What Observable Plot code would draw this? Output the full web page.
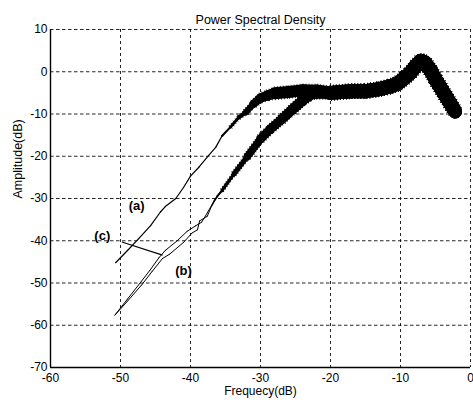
<!DOCTYPE html>
<html>
<head>
<meta charset="utf-8">
<script src="https://cdn.jsdelivr.net/npm/d3@7"></script>
<script src="https://cdn.jsdelivr.net/npm/@observablehq/plot@0.6"></script>
<style>
  html, body { margin: 0; padding: 0; background: #fff; }
</style>
</head>
<body>
<div id="chart"></div>
<script>
// ---- tick labels ----
const xTicks = [-60, -50, -40, -30, -20, -10, 0];
const yTicks = [10, 0, -10, -20, -30, -40, -50, -60, -70];

// ---- curve (a) ----
const aX = [-50.7, -49.0, -47.4, -45.7, -44.3, -43.6, -42.1, -41.0, -40.0, -38.8, -37.4, -36.4, -35.5, -34.3, -33.1, -32.1, -31.0, -30.0, -29.0, -28.0, -26.0, -24.0, -22.0];
const aY = [-45.2, -42.3, -39.5, -36.4, -33.2, -31.9, -30.0, -27.4, -24.7, -22.6, -19.8, -17.9, -15.2, -13.1, -10.8, -9.6, -7.6, -6.2, -5.6, -5.1, -4.8, -4.4, -4.5];

// ---- curve (b) ----
const bX = [-50.8, -49.0, -47.0, -45.5, -44.0, -43.0, -41.0, -39.8, -39.0, -38.7, -37.6, -37.0, -36.2, -35.5, -33.8, -31.9, -30.0, -28.6, -27.0, -25.5, -24.0, -23.0, -22.0];
const bY = [-57.6, -54.3, -50.5, -47.3, -44.2, -43.2, -40.4, -38.2, -37.4, -35.3, -34.2, -31.8, -29.5, -28.2, -24.3, -20.2, -16.0, -13.6, -11.3, -9.0, -6.8, -5.6, -5.0];

// ---- curve (c) ----
const cX = [-50.8, -49.0, -47.2, -45.8, -44.5, -43.6, -41.9, -40.5, -39.3, -38.4, -37.6, -36.6, -35.5, -33.8, -31.9, -30.0, -28.6, -27.0, -25.5, -24.0, -23.0, -22.0];
const cY = [-57.6, -53.8, -50.0, -47.0, -44.0, -42.3, -40.0, -37.8, -36.5, -35.6, -33.4, -30.5, -28.0, -24.1, -20.0, -15.8, -13.6, -11.3, -9.0, -6.8, -5.6, -5.0];

// ---- common high-frequency part (all three curves) ----
const tailX = [-20.0, -17.0, -15.0, -13.0, -11.5, -10.5, -9.5, -8.6, -7.8, -7.1, -6.5, -5.7, -5.0, -4.3, -3.6, -2.9, -2.2];
const tailY = [-5.0, -4.6, -4.6, -4.1, -3.5, -2.9, -1.6, -0.3, 1.4, 2.6, 2.2, 0.3, -1.8, -3.7, -5.6, -7.5, -9.4];

// ---- annotations ----
const labelText = ["(a)", "(b)", "(c)"];
const labelX = [-47.7, -41.0, -52.6];
const labelY = [-31.7, -47.2, -38.8];
const pointerX = [-49.8, -44.0];
const pointerY = [-40.3, -43.4];

// ---- build segment table ----
function lerp(x, x0, x1, w0, w1) {
  const t = Math.max(0, Math.min(1, (x - x0) / (x1 - x0)));
  return w0 + t * (w1 - w0);
}
function widthFor(name, x) {
  if (name === "a") {
    if (x < -36) return 1.2;
    if (x < -33) return lerp(x, -36, -33, 1.2, 3.5);
    if (x < -30) return lerp(x, -33, -30, 3.5, 9);
    if (x < -22) return lerp(x, -30, -27, 9, 12);
    return lerp(x, -22, -19, 12, 14);
  }
  if (x < -37) return 1.0;
  if (x < -34) return lerp(x, -37, -34, 1.0, 3);
  if (x < -30) return lerp(x, -34, -30, 3, 8);
  if (x < -22) return lerp(x, -30, -25, 8, 10);
  return lerp(x, -22, -19, 10, 14);
}
const curves = [
  {name: "a", xs: aX.concat(tailX), ys: aY.concat(tailY)},
  {name: "b", xs: bX.concat(tailX), ys: bY.concat(tailY)},
  {name: "c", xs: cX.concat(tailX), ys: cY.concat(tailY)}
];
const segs = [];
for (const c of curves) {
  for (let i = 0; i < c.xs.length - 1; i++) {
    const w = widthFor(c.name, (c.xs[i] + c.xs[i + 1]) / 2);
    segs.push({x1: c.xs[i], y1: c.ys[i], x2: c.xs[i + 1], y2: c.ys[i + 1], w, wHair: w + 1.8});
  }
}
const thickSegs = segs.filter(s => s.w > 2.5);
const labels = labelText.map((t, i) => ({t, x: labelX[i], y: labelY[i]}));
const pointer = [{x1: pointerX[0], y1: pointerY[0], x2: pointerX[1], y2: pointerY[1]}];

const FONT = "'Liberation Sans', Arial, Helvetica, sans-serif";

const plot = Plot.plot({
  width: 473,
  height: 404,
  marginLeft: 50,
  marginRight: 3,
  marginTop: 29,
  marginBottom: 37,
  style: {fontFamily: FONT, fontSize: "12px", color: "#000", background: "#fff"},
  x: {domain: [-60, 0], ticks: xTicks, tickSize: 0, tickPadding: 6, tickFormat: d => String(d), label: null},
  y: {domain: [-70, 10], ticks: yTicks, tickSize: 0, tickPadding: 3, tickFormat: d => String(d), label: null},
  marks: [
    Plot.ruleX(xTicks, {stroke: "#000", strokeWidth: 1, strokeDasharray: "3,3", strokeOpacity: 0.85}),
    Plot.ruleY(yTicks, {stroke: "#000", strokeWidth: 1, strokeDasharray: "3.5,2.5", strokeOpacity: 0.85}),
    Plot.ruleX([-60], {stroke: "#000", strokeWidth: 1.4}),
    Plot.ruleY([-70], {stroke: "#000", strokeWidth: 1.4}),
    // light ragged fringe on the thick (noisy) parts
    Plot.link(thickSegs, {x1: "x1", y1: "y1", x2: "x2", y2: "y2", strokeWidth: "wHair", stroke: "#000", strokeDasharray: "0.7,2.3", strokeLinecap: "butt"}),
    Plot.link(segs, {x1: "x1", y1: "y1", x2: "x2", y2: "y2", strokeWidth: "w", stroke: "#000", strokeLinecap: "round", strokeLinejoin: "round"}),
    Plot.link(pointer, {x1: "x1", y1: "y1", x2: "x2", y2: "y2", stroke: "#000", strokeWidth: 1.2}),
    Plot.text(labels, {x: "x", y: "y", text: "t", fontSize: 13, fontWeight: "bold", fill: "#000", ariaLabel: "curve-labels"}),
    Plot.text(["Power Spectral Density"], {frameAnchor: "top", dy: -14, fontSize: 12.5, fill: "#000"}),
    Plot.text(["Frequecy(dB)"], {frameAnchor: "bottom", dy: 27, fontSize: 12, fill: "#000"}),
    Plot.text(["Amplitude(dB)"], {frameAnchor: "left", dx: -33, rotate: -90, fontSize: 12.5, fill: "#000"})
  ]
});
d3.select(plot).selectAll('g[aria-label="curve-labels"] text').style("letter-spacing", "2px");
document.getElementById("chart").appendChild(plot);
</script>
</body>
</html>
